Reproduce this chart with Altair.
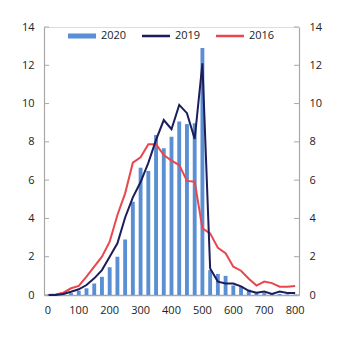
import altair as alt
import pandas as pd

x_vals = list(range(0, 825, 25))
s2020 = [0, 0, 0.03, 0.1, 0.22, 0.35, 0.6, 0.95, 1.45, 2.0, 2.9, 4.87, 6.65, 6.48, 8.36, 7.66, 8.27,
         9.06, 8.93, 8.97, 12.9, 1.3, 1.1, 1.0, 0.5, 0.45, 0.28, 0.12, 0.1, 0.05, 0.05, 0.03, 0.02]
s2019 = [0, 0, 0.05, 0.17, 0.3, 0.52, 0.87, 1.3, 2.0, 2.7, 4.05, 5.1, 5.9, 6.9, 8.1, 9.14, 8.66,
         9.93, 9.5, 8.15, 12.1, 1.39, 0.7, 0.6, 0.6, 0.45, 0.22, 0.12, 0.18, 0.05, 0.18, 0.1, 0.1]
s2016 = [0, 0.03, 0.12, 0.35, 0.47, 0.96, 1.48, 2.0, 2.79, 4.18, 5.31, 6.91, 7.19, 7.87, 7.87, 7.31, 7.02,
         6.79, 5.96, 5.92, 3.48, 3.22, 2.47, 2.18, 1.48, 1.27, 0.85, 0.49, 0.7, 0.62, 0.43, 0.43, 0.47]
series_names = ["2020", "2019", "2016"]
x_labels = [0, 100, 200, 300, 400, 500, 600, 700, 800]
y_ticks = [0, 2, 4, 6, 8, 10, 12, 14]

BLUE = "#5B8FD4"
NAVY = "#1C1D5C"
RED = "#E8474E"
FONT = "Open Sans"

rows = []
for name, vals in zip(series_names, [s2020, s2019, s2016]):
    for xv, v in zip(x_vals, vals):
        rows.append({"x": xv, "value": v, "series": name})
df = pd.DataFrame(rows)
ticks_df = pd.DataFrame({"t": y_ticks})

W, H = 255, 268

x_enc = alt.X("x:O", title=None,
              scale=alt.Scale(domain=x_vals, paddingInner=0, paddingOuter=0),
              axis=alt.Axis(values=x_labels, labelAngle=0, ticks=False, domain=True,
                            domainColor="#A8A8A8", domainWidth=1.5, labelPadding=9,
                            labelFont=FONT, labelFontSize=11, labelColor="#222"),
              bandPosition=0.5)
y_scale = alt.Scale(domain=[0, 14], nice=False)

def y_axis(orient):
    return alt.Axis(orient=orient, values=y_ticks, ticks=False, grid=False, domain=True,
                    domainColor="#A8A8A8", domainWidth=1.2, labelPadding=10,
                    labelFont=FONT, labelFontSize=11, labelColor="#222", title=None)

bars = alt.Chart(df).transform_filter(alt.datum.series == "2020").mark_bar(
    color=BLUE, width=alt.RelativeBandSize(0.5)
).encode(
    x=x_enc,
    y=alt.Y("value:Q", scale=y_scale, axis=y_axis("left")),
)

line19 = alt.Chart(df).transform_filter(alt.datum.series == "2019").mark_line(
    color=NAVY, strokeWidth=2
).encode(
    x=x_enc,
    y=alt.Y("value:Q", scale=y_scale, axis=y_axis("right")),
)

line16 = alt.Chart(df).transform_filter(alt.datum.series == "2016").mark_line(
    color=RED, strokeWidth=2
).encode(
    x=x_enc,
    y=alt.Y("value:Q", scale=y_scale, axis=None),
)

ticks_left = alt.Chart(ticks_df).mark_rule(color="#A8A8A8", strokeWidth=1).encode(
    y=alt.Y("t:Q", scale=y_scale, axis=None),
    x=alt.value(0), x2=alt.value(5),
)
ticks_right = alt.Chart(ticks_df).mark_rule(color="#A8A8A8", strokeWidth=1).encode(
    y=alt.Y("t:Q", scale=y_scale, axis=None),
    x=alt.value(W - 5), x2=alt.value(W),
)

legend_layer = alt.Chart(df).mark_point(filled=True, opacity=0).encode(
    x=x_enc,
    y=alt.Y("value:Q", scale=y_scale, axis=None),
    color=alt.Color("series:N", scale=alt.Scale(domain=series_names, range=[BLUE, NAVY, RED]),
                    legend=alt.Legend(orient="none", legendX=24, legendY=-5, direction="horizontal",
                                      title=None, symbolSize=784, symbolOpacity=1,
                                      symbolStrokeWidth=0, labelOffset=5, columnPadding=15,
                                      labelFont=FONT, labelFontSize=11, labelColor="#222",
                                      padding=0)),
    shape=alt.Shape("series:N", scale=alt.Scale(
        domain=series_names,
        range=["M-1,-0.18H1V0.18H-1Z", "M-1,-0.09H1V0.09H-1Z", "M-1,-0.09H1V0.09H-1Z"]),
        legend=None),
)

chart = alt.layer(bars, line16, line19, ticks_left, ticks_right, legend_layer).resolve_axis(
    y="independent"
).properties(
    width=W, height=H,
    autosize=alt.AutoSizeParams(type="none"),
    padding={"left": 44, "top": 27, "right": 46, "bottom": 46},
).configure_view(stroke=None).configure(background="white")

chart.save("out.html", embed_options={"renderer": "svg", "actions": False})
